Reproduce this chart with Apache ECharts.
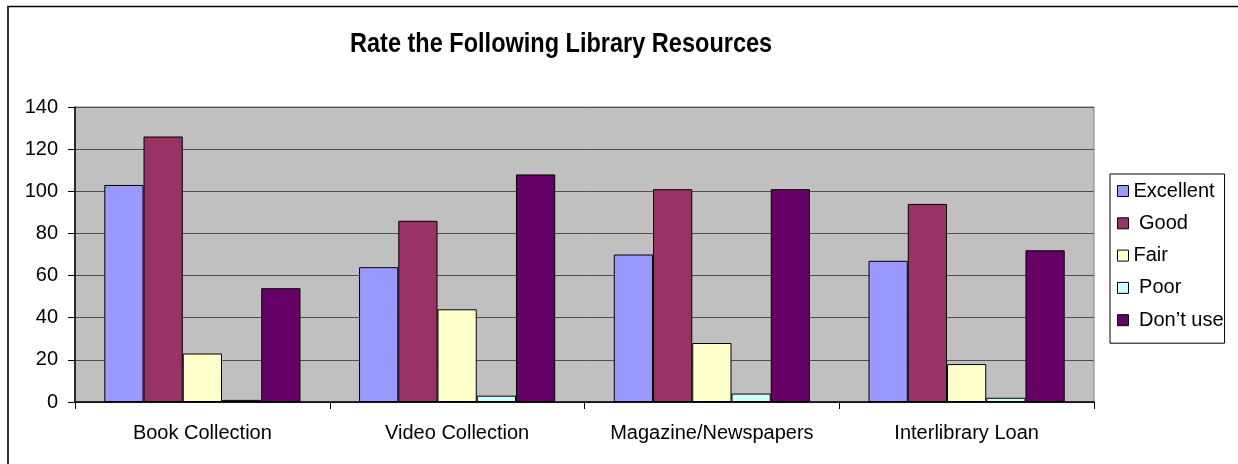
<!DOCTYPE html>
<html>
<head>
<meta charset="utf-8">
<script src="https://cdn.jsdelivr.net/npm/echarts@6/dist/echarts.min.js"></script>
<style>
html,body{margin:0;padding:0;background:#fff;}
#chart{width:1238px;height:464px;}
</style>
</head>
<body>
<div id="chart"></div>
<script>
const categories = ['Book Collection', 'Video Collection', 'Magazine/Newspapers', 'Interlibrary Loan'];
const seriesNames = ['Excellent', ' Good', 'Fair', ' Poor', ' Don\u2019t use'];
const excellent = [103, 64, 70, 67];
const good = [126, 86, 101, 94];
const fair = [23, 44, 28, 18];
const poor = [1, 3, 4, 2];
const dontUse = [54, 108, 101, 72];
const yTicks = [0, 20, 40, 60, 80, 100, 120, 140];
const titleText = 'Rate the Following Library Resources';
const colors = ['#9999FF', '#993366', '#FFFFCC', '#CCFFFF', '#660066'];

const seriesData = [excellent, good, fair, poor, dontUse];
const FONT = '"Liberation Sans", Arial, sans-serif';

const chart = echarts.init(document.getElementById('chart'));
chart.setOption({
  animation: false,
  backgroundColor: '#ffffff',
  graphic: [{
    type: 'rect',
    shape: { x: 8, y: 6.5, width: 1300, height: 600 },
    style: { fill: 'none', stroke: '#000', lineWidth: 1.6 },
    silent: true
  }, {
    type: 'text',
    x: 350,
    y: 30,
    scaleX: 0.84,
    silent: true,
    style: {
      text: titleText,
      fontFamily: FONT,
      fontWeight: 'bold',
      fontSize: 28,
      fill: '#000',
      verticalAlign: 'top',
      align: 'left'
    }
  }],
  legend: {
    orient: 'vertical',
    left: 1110,
    top: 174,
    padding: [7, 1, 13, 7],
    itemWidth: 11,
    itemHeight: 11,
    itemGap: 12.3,
    itemTextGap: 10,
    icon: 'rect',
    borderColor: '#000',
    borderWidth: 1,
    backgroundColor: '#fff',
    itemStyle: { borderColor: '#000', borderWidth: 1 },
    textStyle: { fontFamily: FONT, fontSize: 20, color: '#000', lineHeight: 20 },
    data: seriesNames
  },
  grid: {
    left: 75,
    right: 144,
    top: 107,
    bottom: 62,
    show: true,
    backgroundColor: '#C0C0C0',
    borderColor: '#808080',
    borderWidth: 1
  },
  xAxis: {
    type: 'category',
    data: categories,
    boundaryGap: true,
    axisLine: { lineStyle: { color: '#000', width: 1.5 } },
    axisTick: { show: true, length: 7, lineStyle: { color: '#000' } },
    axisLabel: { fontFamily: FONT, fontSize: 20, color: '#000', margin: 21, interval: 0 }
  },
  yAxis: {
    type: 'value',
    min: yTicks[0],
    max: yTicks[yTicks.length - 1],
    interval: yTicks[1] - yTicks[0],
    axisLine: { show: true, lineStyle: { color: '#000', width: 1.5 } },
    axisTick: { show: true, length: 7, lineStyle: { color: '#000' } },
    axisLabel: { fontFamily: FONT, fontSize: 20, color: '#000', margin: 17 },
    splitLine: { show: true, lineStyle: { color: '#505050', width: 1 } }
  },
  series: seriesNames.map((name, i) => ({
    name: name,
    type: 'bar',
    data: seriesData[i],
    barGap: '0%',
    barCategoryGap: '23%',
    itemStyle: { color: colors[i], borderColor: '#000', borderWidth: 1 }
  }))
});
</script>
</body>
</html>
